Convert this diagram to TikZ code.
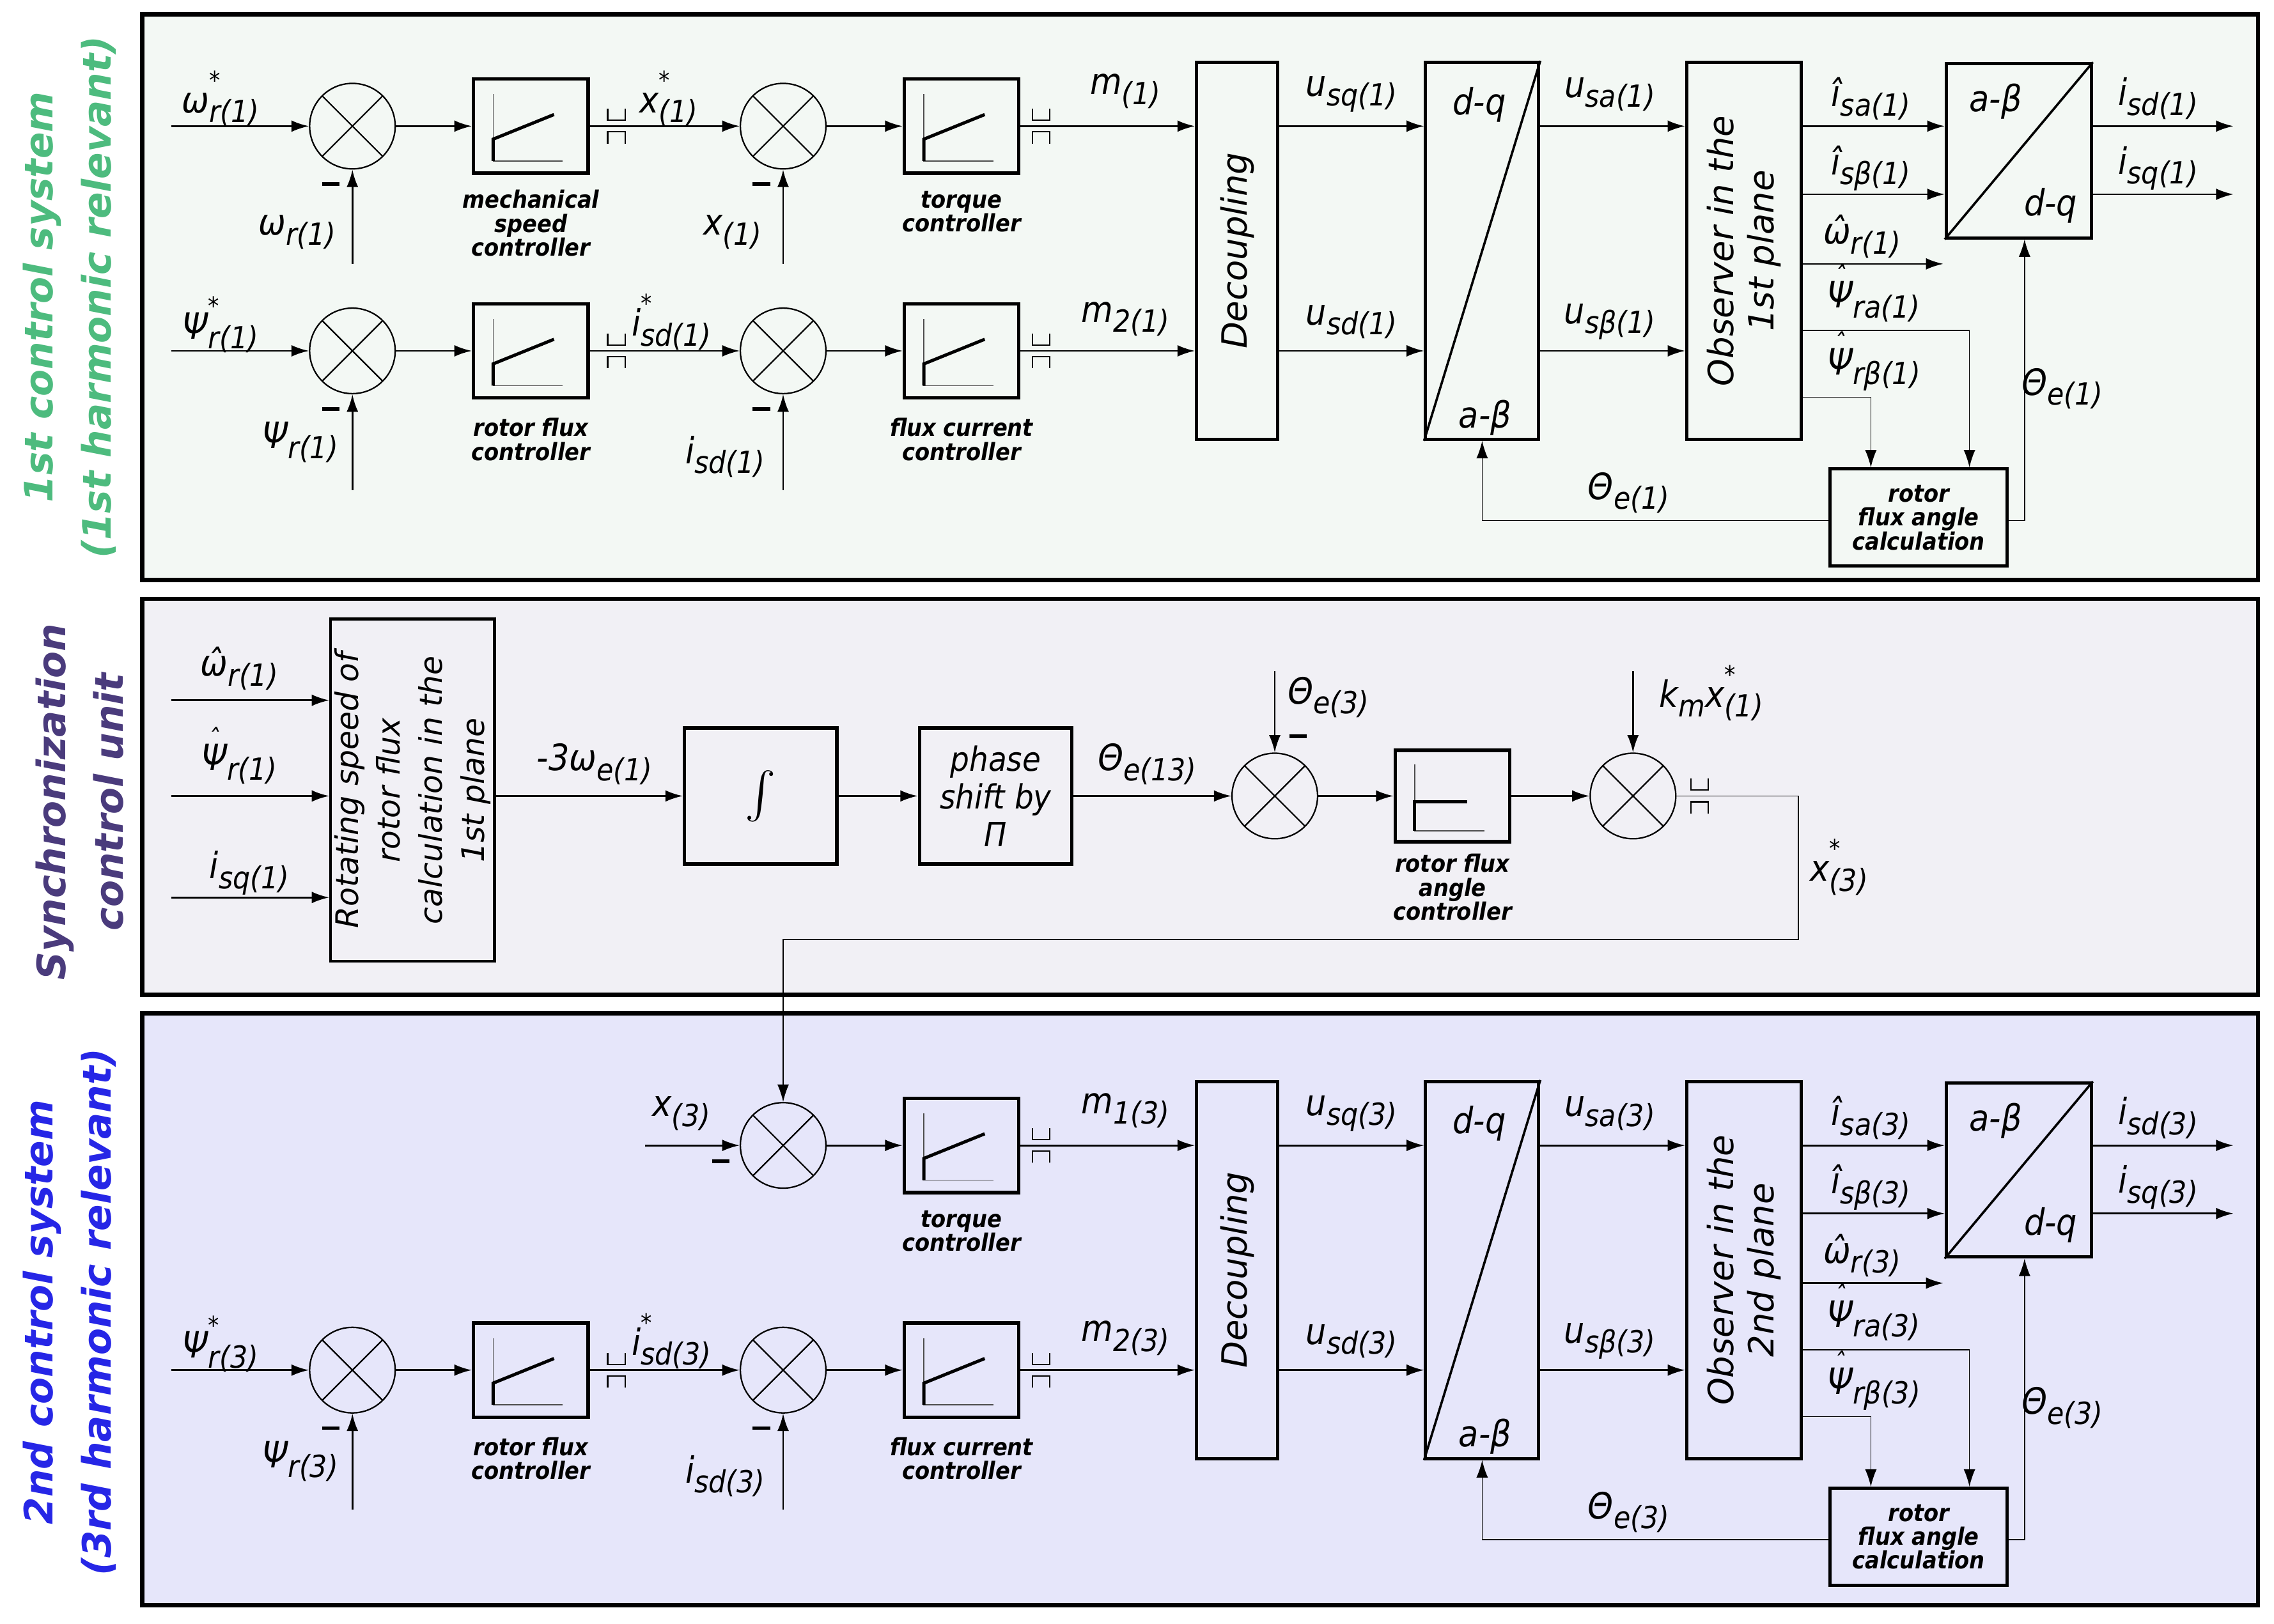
\documentclass[tikz,border=0pt]{standalone}
\usepackage{fontspec}
\setmainfont{DejaVu Sans}
\newfontfamily\cnd{DejaVu Sans Condensed}
\usetikzlibrary{arrows.meta}
\definecolor{pone}{HTML}{F3F8F4}
\definecolor{ptwo}{HTML}{F1F0F5}
\definecolor{pthree}{HTML}{E6E6FA}
\definecolor{tgreen}{HTML}{4DBB7E}
\definecolor{tpurple}{HTML}{4A3B7C}
\definecolor{tblue}{HTML}{2626E6}
\newcommand\lo[1]{\raisebox{-0.5ex}{\fontsize{21}{21}\selectfont #1}}
\newcommand\lbl[2]{#1\lo{#2}}
\newcommand\str{\rlap{\raisebox{1.2ex}{\fontsize{17}{17}\selectfont *}}}
\newcommand\hatt[1]{\ooalign{#1\cr\hidewidth\raisebox{0.62em}{\fontsize{18}{18}\selectfont ˆ}\hidewidth\cr}}
\newcommand\piic[1]{%
 \draw[line width=0.7pt,black!70] ([shift={(-26,-22)}]#1.center)--([shift={(-26,24)}]#1.center)--([shift={(22,24)}]#1.center);
 \draw[line width=2.2pt] ([shift={(-26,24)}]#1.center)--([shift={(-26,9)}]#1.center)--([shift={(16,-8)}]#1.center);}
\newcommand\brk[2]{%
 \draw[line width=0.9pt] (#1-6,#2-12)--(#1-6,#2-4)--(#1+6,#2-4)--(#1+6,#2-12);
 \draw[line width=0.9pt] (#1-6,#2+12)--(#1-6,#2+4)--(#1+6,#2+4)--(#1+6,#2+12);}
\newcommand\mns[2]{\draw[line width=2.6pt] (#1-6,#2)--(#1+6,#2);}
% common part of a control system: #1 suffix, #2 index, #3 plane word
\newcommand\common[3]{%
 \coordinate (yA#1) at (0,87); \coordinate (yB#1) at (0,134); \coordinate (yC#1) at (0,182);
 \coordinate (yD#1) at (0,228); \coordinate (yE#1) at (0,274); \coordinate (yL#1) at (0,242);
 \node[sum] (sB#1) at (540,87) {};
 \node[ctl] (cB#1) at (663,87) {}; \piic{cB#1}
 \node[capt] (capB#1) at (663,146) {torque\\controller};
 \node[sum] (sAl#1) at (243,242) {};
 \node[ctl] (cAl#1) at (366,242) {}; \piic{cAl#1}
 \node[capt] (capAl#1) at (366,303) {rotor flux\\controller};
 \node[sum] (sBl#1) at (540,242) {};
 \node[ctl] (cBl#1) at (663,242) {}; \piic{cBl#1}
 \node[capt] (capBl#1) at (663,303) {flux current\\controller};
 \node[tall=56pt] (dec#1) at (853,173) {};
 \node[rt] (decT#1) at (dec#1) {Decoupling};
 \node[tall=78pt] (dq#1) at (1022,173) {};
 \draw[line width=1.6pt] (dq#1.south west)--(dq#1.north east);
 \node[lab] (dqa#1) at (1020,72) {d-q};
 \node[lab] (dqb#1) at (1024,288) {a-β};
 \node[tall=79pt] (obs#1) at (1202.5,173) {};
 \node[rt] (obsT#1) at (obs#1) {Observer in the\\#3 plane};
 \node[draw,line width=2.2pt,minimum width=100pt,minimum height=120pt,inner sep=0pt] (ab#1) at (1392,104) {};
 \draw[line width=1.6pt] (ab#1.south west)--(ab#1.north east);
 \node[lab] (aba#1) at (1376,70) {a-β};
 \node[lab] (abb#1) at (1414,142) {d-q};
 \node[draw,line width=2.2pt,minimum width=122pt,minimum height=67pt,inner sep=0pt,capt] (calc#1) at (1323,357) {rotor\\flux angle\\calculation};
 % lower row
 \coordinate (inL#1) at (118,242); \draw[arr] (inL#1)--(sAl#1);
 \coordinate (fbL#1) at (243,338); \draw[arr] (fbL#1)--(sAl#1.south); \mns{228}{282}
 \draw[arr] (sAl#1)--(cAl#1); \draw[arr] (cAl#1)--(sBl#1); \brk{425}{242}
 \coordinate (fbL2#1) at (540,338); \draw[arr] (fbL2#1)--(sBl#1.south); \mns{525}{282}
 \draw[arr] (sBl#1)--(cBl#1); \draw[arr] (cBl#1)--(dec#1.west|-yL#1); \brk{718}{242}
 \draw[arr] (sB#1)--(cB#1); \draw[arr] (cB#1)--(dec#1.west|-yA#1); \brk{718}{87}
 \draw[arr] (dec#1.east|-yA#1)--(dq#1.west|-yA#1);
 \draw[arr] (dec#1.east|-yL#1)--(dq#1.west|-yL#1);
 \draw[arr] (dq#1.east|-yA#1)--(obs#1.west|-yA#1);
 \draw[arr] (dq#1.east|-yL#1)--(obs#1.west|-yL#1);
 \draw[arr] (obs#1.east|-yA#1)--(ab#1.west|-yA#1);
 \draw[arr] (obs#1.east|-yB#1)--(ab#1.west|-yB#1);
 \coordinate (wE#1) at (1340,182); \draw[arr] (obs#1.east|-yC#1)--(wE#1);
 \coordinate (oA#1) at (1540,87); \draw[arr] (ab#1.east|-yA#1)--(oA#1);
 \coordinate (oB#1) at (1540,134); \draw[arr] (ab#1.east|-yB#1)--(oB#1);
 \coordinate (pRA#1) at (1358,228); \draw[arr,thinln] (obs#1.east|-yD#1)--(pRA#1)--(pRA#1|-calc#1.north);
 \coordinate (pRB#1) at (1290,274); \draw[arr,thinln] (obs#1.east|-yE#1)--(pRB#1)--(pRB#1|-calc#1.north);
 \coordinate (pT#1) at (1396,359); \draw[arr,thinln] (calc#1.east|-pT#1)--(pT#1)--(pT#1|-ab#1.south);
 \coordinate (pL#1) at (1022,359); \draw[arr,thinln] (calc#1.west|-pL#1)--(pL#1)--(dq#1.south);
 % labels
 \node[lab] (lpsS#1) at (152,224) {\lbl{Ψ\str}{r(#2)}};
 \node[lab] (lps#1) at (207,305) {\lbl{Ψ}{r(#2)}};
 \node[lab] (lisS#1) at (463,222) {\lbl{i\str}{sd(#2)}};
 \node[lab] (lis#1) at (500,315) {\lbl{i}{sd(#2)}};
 \node[lab] (lm2#1) at (776,220) {\lbl{m}{2(#2)}};
 \node[lab] (lusq#1) at (932,65) {\lbl{u}{sq(#2)}};
 \node[lab] (lusd#1) at (932,222) {\lbl{u}{sd(#2)}};
 \node[lab] (lusa#1) at (1110,65) {\lbl{u}{sa(#2)}};
 \node[lab] (lusb#1) at (1110,222) {\lbl{u}{sβ(#2)}};
 \node[lab] (lisa#1) at (1290,68) {\lbl{î}{sa(#2)}};
 \node[lab] (lisb#1) at (1290,116) {\lbl{î}{sβ(#2)}};
 \node[lab] (lwr#1) at (1284,163) {\lbl{ω̂}{r(#2)}};
 \node[lab] (lpra#1) at (1292,208) {\lbl{\hatt{Ψ}}{ra(#2)}};
 \node[lab] (lprb#1) at (1292,255) {\lbl{\hatt{Ψ}}{rβ(#2)}};
 \node[lab] (lisd#1) at (1488,68) {\lbl{i}{sd(#2)}};
 \node[lab] (lisq#1) at (1488,116) {\lbl{i}{sq(#2)}};
 \node[lab] (lthR#1) at (1422,268) {\lbl{Θ}{e(#2)}};
 \node[lab] (lthB#1) at (1123,340) {\lbl{Θ}{e(#2)}};
}
\begin{document}
\begin{tikzpicture}[x=1pt,y=-1pt,
 arr/.style={-{Latex[length=12pt,width=8pt]},line width=1.2pt},
 thinln/.style={line width=0.7pt},
 sum/.style={circle,draw,line width=1pt,minimum size=59pt,inner sep=0pt,path picture={\draw[line width=1pt] (path picture bounding box.north west)--(path picture bounding box.south east) (path picture bounding box.north east)--(path picture bounding box.south west);}},
 ctl/.style={draw,line width=2.4pt,minimum width=79pt,minimum height=65pt,inner sep=0pt},
 tall/.style={draw,line width=2.2pt,minimum width=#1,minimum height=260pt,inner sep=0pt},
 capt/.style={font=\cnd\bfseries\itshape\fontsize{16.5}{16.5}\selectfont,align=center},
 lab/.style={font=\cnd\itshape\fontsize{25}{26}\selectfont,inner sep=0pt},
 rt/.style={rotate=90,font=\itshape\fontsize{24}{28}\selectfont,align=center},
 ttl/.style={rotate=90,font=\bfseries\itshape\fontsize{27}{40}\selectfont,align=center},
]
\useasboundingbox[fill=white] (0,0) rectangle (1568,1120);
% panels
\draw[line width=3pt,fill=pone] (98,10) rectangle (1557,400);
\draw[line width=3pt,fill=ptwo] (98,413) rectangle (1557,686);
\draw[line width=3pt,fill=pthree] (98,699) rectangle (1557,1107);
\node[ttl,text=tgreen] (t1) at (48,205) {1st control system\\(1st harmonic relevant)};
\node[ttl,text=tpurple] (t2) at (55,553) {Synchronization\\control unit};
\node[ttl,text=tblue] (t3) at (48,905) {2nd control system\\(3rd harmonic relevant)};
% ---------- panel 1
\common{p}{1}{1st}
\node[sum] (sA) at (243,87) {};
\node[ctl] (cA) at (366,87) {}; \piic{cA}
\node[capt] (capA) at (366,154) {mechanical\\speed\\controller};
\coordinate (inA) at (118,87); \draw[arr] (inA)--(sA);
\coordinate (fbA) at (243,182); \draw[arr] (fbA)--(sA.south); \mns{228}{127}
\draw[arr] (sA)--(cA); \draw[arr] (cA)--(sBp); \brk{425}{87}
\coordinate (fbB) at (540,182); \draw[arr] (fbB)--(sBp.south); \mns{525}{127}
\node[lab] (lwS) at (152,68) {\lbl{ω\str}{r(1)}};
\node[lab] (lw) at (205,160) {\lbl{ω}{r(1)}};
\node[lab] (lxS) at (461,68) {\lbl{x\str}{(1)}};
\node[lab] (lx) at (505,160) {\lbl{x}{(1)}};
\node[lab] (lm) at (776,63) {\lbl{m}{(1)}};
% ---------- panel 2
\node[draw,line width=2pt,minimum width=113pt,minimum height=236pt,inner sep=0pt] (rot) at (284.5,545) {};
\node[rt,font=\itshape\fontsize{21.5}{29}\selectfont] (rotT) at (rot) {Rotating speed of\\rotor flux\\calculation in the\\1st plane};
\coordinate (i1) at (118,483); \draw[arr] (i1)--(rot.west|-i1);
\coordinate (i2) at (118,549); \draw[arr] (i2)--(rot.west|-i2);
\coordinate (i3) at (118,619); \draw[arr] (i3)--(rot.west|-i3);
\node[lab] (lsw) at (165,461) {\lbl{ω̂}{r(1)}};
\node[lab] (lsp) at (165,527) {\lbl{\hatt{Ψ}}{r(1)}};
\node[lab] (lsi) at (172,602) {\lbl{i}{sq(1)}};
\node[draw,line width=2.4pt,minimum width=105pt,minimum height=94pt,inner sep=0pt] (integ) at (524.5,549) {\scalebox{3.2}{$\int$}};
\node[draw,line width=2.4pt,minimum width=105pt,minimum height=94pt,inner sep=0pt,align=center,font=\cnd\itshape\fontsize{23}{26}\selectfont] (ph) at (686.5,549) {phase\\shift by\\Π};
\node[sum] (sS1) at (879,549) {};
\node[ctl,minimum height=63pt] (cS) at (1001.5,549) {};
\draw[line width=0.7pt,black!70] ([shift={(-26,-22)}]cS.center)--([shift={(-26,24)}]cS.center)--([shift={(22,24)}]cS.center);
\draw[line width=2.2pt] ([shift={(-26,24)}]cS.center)--([shift={(-26,4)}]cS.center)--([shift={(10,4)}]cS.center);
\node[capt] (capS) at (1001.5,612) {rotor flux\\angle\\controller};
\node[sum] (sS2) at (1126,549) {};
\draw[arr] (rot.east|-i2)--(integ); \draw[arr] (integ)--(ph); \draw[arr] (ph)--(sS1);
\draw[arr] (sS1)--(cS); \draw[arr] (cS)--(sS2);
\coordinate (th3) at (879,463); \draw[arr] (th3)--(sS1.north); \mns{895}{508}
\coordinate (km) at (1126,463); \draw[arr] (km)--(sS2.north);
\node[lab] (l3w) at (410,527) {\lbl{-3ω}{e(1)}};
\node[lab] (l13) at (791,527) {\lbl{Θ}{e(13)}};
\node[lab] (lt3) at (916,481) {\lbl{Θ}{e(3)}};
\node[lab] (lkm) at (1180,478) {k\lo{m}x\str\lo{(1)}};
\node[lab] (lx3) at (1268,598) {\lbl{x\str}{(3)}};
\brk{1172}{549}
% ---------- panel 3
\begin{scope}[yshift=-703pt]
\common{q}{3}{2nd}
\coordinate (inX) at (445,87); \draw[arr] (inX)--(sBq); \mns{497}{98}
\node[lab] (lx3b) at (470,65) {\lbl{x}{(3)}};
\node[lab] (lm3) at (776,63) {\lbl{m}{1(3)}};
\end{scope}
\coordinate (c1) at (1240,549); \coordinate (c2) at (1240,648); \coordinate (c3) at (540,648);
\draw[arr,thinln] (sS2.east)--(c1)--(c2)--(c3)--(sBq.north);
\end{tikzpicture}
\end{document}
